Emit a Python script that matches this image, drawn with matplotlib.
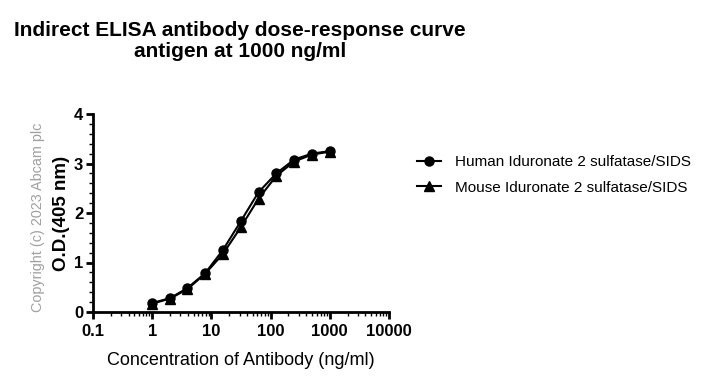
import numpy as np
import matplotlib.pyplot as plt
from matplotlib.ticker import LogLocator, MultipleLocator, NullFormatter

plt.rcParams['font.family'] = ['Liberation Sans', 'DejaVu Sans']

# data
conc = [1, 2, 3.9, 7.8, 15.6, 31.25, 62.5, 125, 250, 500, 1000]
human = [0.18, 0.28, 0.48, 0.78, 1.25, 1.83, 2.42, 2.80, 3.08, 3.20, 3.25]
mouse = [0.17, 0.27, 0.46, 0.77, 1.17, 1.71, 2.29, 2.75, 3.04, 3.18, 3.24]
xticks = [0.1, 1, 10, 100, 1000, 10000]
xtick_labels = ["0.1", "1", "10", "100", "1000", "10000"]
yticks = [0, 1, 2, 3, 4]

fig = plt.figure(figsize=(7.11, 3.83), dpi=100)
ax = fig.add_axes([93/711, 71/383, 296/711, 198/383])

ax.plot(conc, human, color='black', marker='o', markersize=6.5, linewidth=1.5,
        label="Human Iduronate 2 sulfatase/SIDS")
ax.plot(conc, mouse, color='black', marker='^', markersize=6.5, linewidth=1.5,
        label="Mouse Iduronate 2 sulfatase/SIDS")

ax.set_xscale('log')
ax.set_xlim(0.1, 10000)
ax.set_ylim(0, 4)
ax.set_xticks(xticks)
ax.set_xticklabels(xtick_labels)
ax.xaxis.set_minor_locator(LogLocator(base=10, subs=np.arange(2, 10)))
ax.xaxis.set_minor_formatter(NullFormatter())
ax.set_yticks(yticks)
ax.yaxis.set_minor_locator(MultipleLocator(0.2))

for s in ['top', 'right']:
    ax.spines[s].set_visible(False)
for s in ['left', 'bottom']:
    ax.spines[s].set_linewidth(2)

ax.tick_params(axis='both', which='major', direction='out', width=2, length=5,
               labelsize=12, pad=2)
ax.tick_params(axis='x', which='major', pad=4)
ax.tick_params(axis='both', which='minor', direction='out', width=1, length=3)
for lbl in ax.get_xticklabels() + ax.get_yticklabels():
    lbl.set_fontweight('bold')

ax.set_ylabel("O.D.(405 nm)", fontsize=13.5, fontweight='bold', labelpad=3)
ax.set_xlabel("Concentration of Antibody (ng/ml)", fontsize=13, labelpad=9)

fig.text(240/711, 1 - 41/383, "Indirect ELISA antibody dose-response curve\nantigen at 1000 ng/ml",
         ha='center', va='center', fontsize=15, fontweight='bold', linespacing=1.15)

fig.text(38/711, 1 - 217/383, "Copyright (c) 2023 Abcam plc", rotation=90,
         ha='center', va='center', fontsize=10.4, color='#a0a0a0')

ax.legend(loc='center left', bbox_to_anchor=(403/711, 1 - 175/383),
          bbox_transform=fig.transFigure, frameon=False, fontsize=11,
          handlelength=1.6, handletextpad=0.9, labelspacing=0.75)

fig.savefig("out.png", dpi=100)
